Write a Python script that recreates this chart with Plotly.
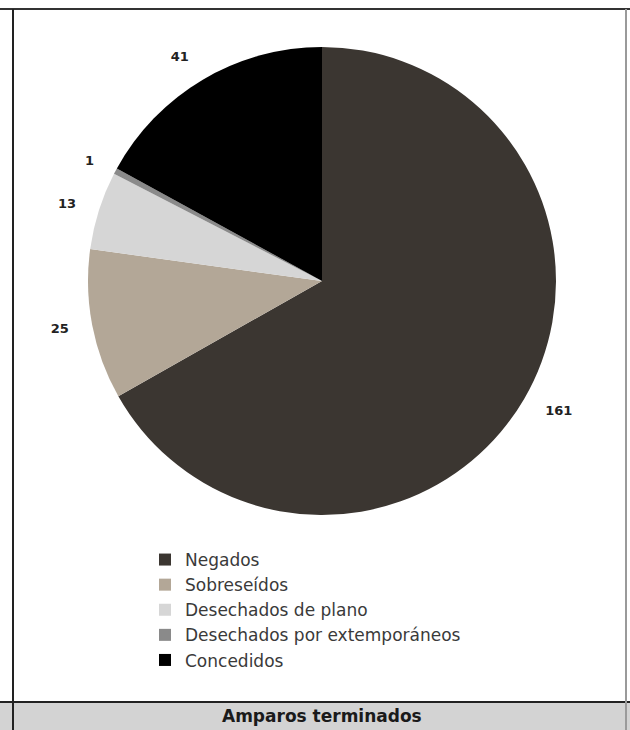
import plotly.graph_objects as go

W, H = 630, 730

labels = ["Negados", "Sobreseídos", "Desechados de plano",
          "Desechados por extemporáneos", "Concedidos"]
values = [161, 25, 13, 1, 41]
colors = ["#3b3631", "#b3a797", "#d6d6d6", "#8a8a8a", "#000000"]
title_text = "Amparos terminados"

FONT = "DejaVu Sans, Verdana, sans-serif"


def px(x):
    return x / W


def py(y):
    return 1 - y / H


# pie geometry (pixels)
cx, cy, R = 322, 281, 234
label_gap = 20

fig = go.Figure()
# main pie (slices + legend)
fig.add_trace(go.Pie(
    labels=labels,
    values=values,
    sort=False,
    direction="clockwise",
    rotation=0,
    marker=dict(colors=colors, line=dict(width=0)),
    textinfo="none",
    hoverinfo="label+value",
    domain=dict(x=[px(cx - R), px(cx + R)], y=[py(cy + R), py(cy - R)]),
    showlegend=True,
))
# transparent companion pie used only to place the value labels a bit further out
fig.add_trace(go.Pie(
    labels=labels,
    values=values,
    sort=False,
    direction="clockwise",
    rotation=0,
    marker=dict(colors=["rgba(0,0,0,0)"] * len(values), line=dict(width=0)),
    textinfo="value",
    textposition="outside",
    texttemplate="<b>%{value}</b>",
    outsidetextfont=dict(family=FONT, size=13, color="#222222"),
    hoverinfo="skip",
    domain=dict(x=[px(cx - R - label_gap), px(cx + R + label_gap)],
                y=[py(cy + R + label_gap), py(cy - R - label_gap)]),
    showlegend=False,
))

band_top = 702
shapes = [
    dict(type="rect", xref="paper", yref="paper", x0=0, x1=1, y0=py(H), y1=py(band_top),
         fillcolor="#d3d3d3", line=dict(width=0), layer="below"),
    dict(type="line", xref="paper", yref="paper", x0=0, x1=1, y0=py(9), y1=py(9),
         line=dict(color="#333333", width=2)),
    dict(type="line", xref="paper", yref="paper", x0=0, x1=1, y0=py(band_top), y1=py(band_top),
         line=dict(color="#222222", width=2)),
    dict(type="line", xref="paper", yref="paper", x0=px(13), x1=px(13), y0=py(H), y1=py(9),
         line=dict(color="#222222", width=2)),
    dict(type="line", xref="paper", yref="paper", x0=px(626), x1=px(626), y0=py(H), y1=py(9),
         line=dict(color="#9a9a9a", width=2)),
]

fig.update_layout(
    width=W, height=H,
    margin=dict(l=0, r=0, t=0, b=0),
    paper_bgcolor="white",
    plot_bgcolor="white",
    shapes=shapes,
    font=dict(family=FONT, size=13, color="#333333"),
    legend=dict(
        x=px(145), y=py(542), xanchor="left", yanchor="top",
        bgcolor="rgba(0,0,0,0)",
        font=dict(family=FONT, size=17, color="#3a3a3a"),
        tracegroupgap=0,
    ),
    annotations=[dict(
        text="<b>" + title_text + "</b>", xref="paper", yref="paper",
        x=px(322), y=py(716), xanchor="center", yanchor="middle",
        showarrow=False, font=dict(family=FONT, size=17, color="#1a1a1a"),
    )],
)

fig.write_html("out.html", config={"displayModeBar": False},
               post_script="document.body.style.margin='0';")
